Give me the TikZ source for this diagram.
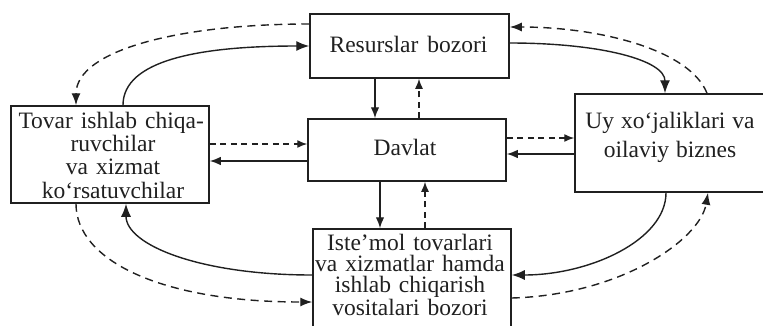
\documentclass[tikz,border=0pt]{standalone}
\usepackage{fontspec}
\setmainfont{Liberation Serif}
\usetikzlibrary{arrows.meta}
\definecolor{ink}{HTML}{202020}
\newcommand\wordgap[1]{\spaceskip #1\relax}
\begin{document}
\begin{tikzpicture}[x=1pt,y=-1pt,
  box/.style={draw=ink, line width=1.5pt, inner sep=0pt},
  lbl/.style={inner sep=0pt, text=ink, align=center},
  solidarrow/.style={draw=ink, line width=1.4pt, -{Latex[length=13pt,width=10pt]}},
  dasharrow/.style={draw=ink, line width=1.4pt, dash pattern=on 8pt off 5.5pt, -{Latex[length=12pt,width=9pt]}},
  shortsolid/.style={solidarrow, -{Latex[length=11pt,width=8.5pt]}},
  shortdash/.style={dasharrow, dash pattern=on 6pt off 4.5pt, -{Latex[length=10pt,width=8pt]}}
]
\useasboundingbox (0,0) rectangle (763,325);
\clip (0,0) rectangle (763,325);

% boxes
\node[box, minimum width=199pt, minimum height=64pt] (res) at (409.5,46) {};
\node[box, minimum width=198pt, minimum height=62pt] (dav) at (407,150) {};
\node[box, minimum width=198pt, minimum height=97pt] (tov) at (110,154.5) {};
\node[box, minimum width=195pt, minimum height=98pt] (uy) at (672.5,143) {};
\node[box, minimum width=198pt, minimum height=108pt] (ist) at (412,283) {};

% texts
\node[lbl, anchor=base, font=\fontsize{23.5}{24}\selectfont\wordgap{9pt}] (rest) at (408.5,52) {Resurslar bozori};
\node[lbl, anchor=base, font=\fontsize{23.5}{24}\selectfont] (davt) at (405,155) {Davlat};
\node[lbl, anchor=north, font=\fontsize{23.5}{23.3}\selectfont\wordgap{8pt}] (tovt) at (113,111.5)
  {\makebox[189pt][s]{\rule{0pt}{16.5pt}Tovar ishlab chiqa-}\\ruvchilar\\va xizmat\\ko‘rsatuvchilar};
\node[lbl, anchor=north, font=\fontsize{23.5}{29}\selectfont\wordgap{7pt}] (uyt) at (670,111.5)
  {\rule{0pt}{16.5pt}Uy xo‘jaliklari va\\oilaviy biznes};
\node[lbl, anchor=north, font=\fontsize{23.5}{21.3}\selectfont\wordgap{8pt}] (istt) at (410,233.5)
  {\rule{0pt}{16.5pt}Iste’mol tovarlari\\va xizmatlar hamda\\ishlab chiqarish\\vositalari bozori};

% upper curves
\draw[solidarrow] ([xshift=13pt]tov.north) .. controls (123,60) and (200,46) .. (res.west);
\draw[dasharrow] ([yshift=22pt]res.west) .. controls (180,24) and (76,50) .. ([xshift=-34pt]tov.north);
\draw[solidarrow] ([yshift=3pt]res.east) .. controls (600,43) and (665,60) .. ([xshift=-7.5pt]uy.north);
\draw[dasharrow] ([xshift=34.5pt]uy.north) .. controls (690,50) and (600,27) .. ([yshift=19pt]res.east);

% vertical and horizontal
\draw[shortsolid] ([xshift=-34.5pt]res.south) -- ([xshift=-32pt]dav.north);
\draw[shortdash] ([xshift=12pt]dav.north) -- ([xshift=9.5pt]res.south);
\draw[shortdash] ([yshift=10.5pt]tov.east) -- ([yshift=6pt]dav.west);
\draw[shortsolid] ([yshift=-11pt]dav.west) -- ([yshift=-6.5pt]tov.east);
\draw[shortdash] ([yshift=12pt]dav.east) -- ([yshift=5pt]uy.west);
\draw[shortsolid] ([yshift=-11pt]uy.west) -- ([yshift=-4pt]dav.east);
\draw[shortsolid] ([xshift=-27pt]dav.south) -- ([xshift=-32pt]ist.north);
\draw[shortdash] ([xshift=13pt]ist.north) -- ([xshift=18pt]dav.south);

% lower curves
\draw[solidarrow] ([yshift=8pt]ist.west) .. controls (200,275) and (126,245) .. ([xshift=16pt]tov.south);
\draw[dasharrow] ([xshift=-34pt]tov.south) .. controls (76,260) and (160,302) .. ([yshift=-19pt]ist.west);
\draw[solidarrow] ([xshift=-6.5pt]uy.south) .. controls (666,240) and (590,275) .. ([yshift=8pt]ist.east);
\draw[dasharrow] ([yshift=-15pt]ist.east) .. controls (620,295) and (700,240) .. ([xshift=35.5pt]uy.south);
\end{tikzpicture}
\end{document}
